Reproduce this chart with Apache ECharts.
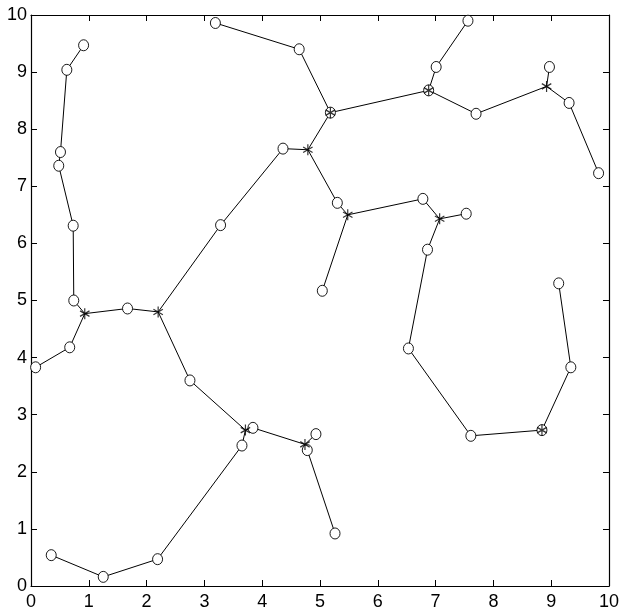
<!DOCTYPE html>
<html>
<head>
<meta charset="utf-8">
<script src="https://cdn.jsdelivr.net/npm/echarts@6/dist/echarts.min.js"></script>
<style>
  html, body { margin: 0; padding: 0; background: #fff; }
  #chart { width: 622px; height: 615px; }
</style>
</head>
<body>
<div id="chart"></div>
<script>
// terminal points (drawn as circles)
const terminals = [
  [0.91, 9.47], [0.62, 9.04], [0.51, 7.60], [0.48, 7.36], [0.73, 6.31],
  [0.74, 5.00], [0.67, 4.18], [0.08, 3.83], [1.67, 4.86], [3.28, 6.32],
  [4.36, 7.66], [3.19, 9.86], [4.64, 9.40], [5.18, 8.29], [5.30, 6.71],
  [5.04, 5.17], [6.78, 6.78], [7.53, 6.52], [6.86, 5.89], [6.53, 4.16],
  [7.61, 2.63], [8.84, 2.73], [9.34, 3.83], [9.13, 5.30], [6.88, 8.68],
  [7.01, 9.09], [7.56, 9.90], [7.70, 8.27], [8.97, 9.09], [9.31, 8.46],
  [9.82, 7.23], [2.75, 3.60], [3.84, 2.77], [3.65, 2.46], [2.19, 0.47],
  [1.25, 0.16], [0.35, 0.54], [4.93, 2.66], [4.78, 2.38], [5.26, 0.92]
];

// steiner points (drawn as asterisks)
const steiner = [
  [0.93, 4.77], [2.20, 4.80], [4.79, 7.64], [5.48, 6.50], [7.07, 6.43],
  [8.92, 8.75], [3.71, 2.73], [4.74, 2.48], [5.18, 8.29], [6.88, 8.68],
  [8.84, 2.73]
];

// tree edges: t = terminal index, s = steiner index
const edges = [
  ['t0', 't1'], ['t1', 't2'], ['t2', 't3'], ['t3', 't4'], ['t4', 't5'],
  ['t5', 's0'], ['s0', 't6'], ['t6', 't7'], ['s0', 't8'], ['t8', 's1'],
  ['s1', 't9'], ['t9', 't10'], ['t10', 's2'], ['s2', 't13'], ['t13', 't12'],
  ['t12', 't11'], ['t13', 't24'], ['s2', 't14'], ['t14', 's3'], ['s3', 't15'],
  ['s3', 't16'], ['t16', 's4'], ['s4', 't17'], ['s4', 't18'], ['t18', 't19'],
  ['t19', 't20'], ['t20', 't21'], ['t21', 't22'], ['t22', 't23'],
  ['t24', 't25'], ['t25', 't26'], ['t24', 't27'], ['t27', 's5'], ['s5', 't28'],
  ['s5', 't29'], ['t29', 't30'], ['s1', 't31'], ['t31', 's6'], ['s6', 't32'],
  ['t32', 's7'], ['s7', 't37'], ['s7', 't38'], ['t38', 't39'], ['s6', 't33'],
  ['t33', 't34'], ['t34', 't35'], ['t35', 't36']
];

const xTicks = [0, 1, 2, 3, 4, 5, 6, 7, 8, 9, 10];
const yTicks = [0, 1, 2, 3, 4, 5, 6, 7, 8, 9, 10];

function pt(key) {
  const idx = parseInt(key.slice(1), 10);
  return key[0] === 't' ? terminals[idx] : steiner[idx];
}

const edgeData = edges.map(e => ({ coords: [pt(e[0]), pt(e[1])] }));

const starPath = 'path://M5 0 L5 10 M0.7 2.5 L9.3 7.5 M9.3 2.5 L0.7 7.5';

const chart = echarts.init(document.getElementById('chart'));

const labelFont = {
  color: '#000',
  fontFamily: '"Liberation Sans Narrow", "Liberation Sans", Arial, sans-serif',
  fontSize: 18
};

const baseAxis = {
  type: 'value',
  min: 0,
  max: 10,
  interval: 1,
  splitLine: { show: false },
  axisLine: { show: true, onZero: false, lineStyle: { color: '#000', width: 1.2 } },
  axisTick: { show: true, inside: true, length: 6, lineStyle: { color: '#000', width: 1 } }
};

chart.setOption({
  animation: false,
  backgroundColor: '#fff',
  grid: { left: 31, right: 11, top: 15, bottom: 29, containLabel: false },
  xAxis: [
    Object.assign({}, baseAxis, {
      position: 'bottom',
      axisLabel: Object.assign({ margin: 7, formatter: v => xTicks.includes(v) ? String(v) : '' }, labelFont)
    }),
    Object.assign({}, baseAxis, { position: 'top', axisLabel: { show: false } })
  ],
  yAxis: [
    Object.assign({}, baseAxis, {
      position: 'left',
      axisLabel: Object.assign({ margin: 4, formatter: v => yTicks.includes(v) ? String(v) : '' }, labelFont)
    }),
    Object.assign({}, baseAxis, { position: 'right', axisLabel: { show: false } })
  ],
  series: [
    {
      type: 'lines',
      coordinateSystem: 'cartesian2d',
      polyline: false,
      data: edgeData,
      lineStyle: { color: '#000', width: 1, opacity: 1 },
      silent: true,
      z: 2
    },
    {
      type: 'scatter',
      data: terminals,
      symbol: 'circle',
      symbolSize: [10, 11],
      itemStyle: { color: '#fff', borderColor: '#000', borderWidth: 0.9, opacity: 1 },
      z: 3
    },
    {
      type: 'scatter',
      data: steiner,
      symbol: starPath,
      symbolSize: 11,
      symbolKeepAspect: true,
      itemStyle: { color: 'none', borderColor: '#000', borderWidth: 1.2 },
      z: 4
    }
  ]
});
</script>
</body>
</html>
